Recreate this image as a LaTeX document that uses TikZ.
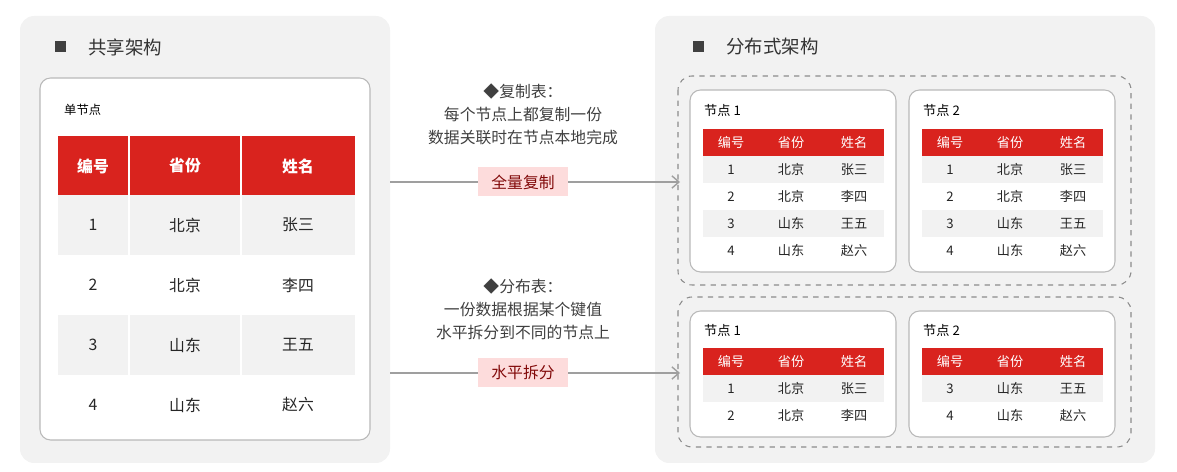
\documentclass[tikz,border=0pt]{standalone}
\usepackage{fontspec}
\setmainfont{Noto Sans CJK SC}
\definecolor{panelgray}{RGB}{242,242,242}
\definecolor{tabred}{RGB}{217,35,30}
\definecolor{rowgray}{RGB}{242,242,242}
\definecolor{boxline}{RGB}{185,185,185}
\definecolor{tagpink}{RGB}{253,220,220}
\definecolor{tagtext}{RGB}{130,10,10}
\tikzset{
  panel/.style={fill=panelgray, rounded corners=8pt},
  whitebox/.style={draw=boxline, fill=white, rounded corners=6pt, line width=0.6pt},
  dashbox/.style={draw=gray!90, dashed, rounded corners=8pt, line width=0.6pt},
  head/.style={text=white, font=\fontsize{7.5}{9}\selectfont},
  cell/.style={text=black!85, font=\fontsize{7.5}{9}\selectfont},
  bighead/.style={text=white, font=\bfseries\fontsize{9}{11}\selectfont},
  bigcell/.style={text=black!85, font=\fontsize{9}{11}\selectfont},
  tag/.style={fill=tagpink, text=tagtext, font=\fontsize{9}{11}\selectfont, minimum width=1.8cm, minimum height=0.58cm},
  note/.style={text=black!75, font=\fontsize{9}{11}\selectfont, align=center},
  flow/.style={draw=gray!75, line width=0.8pt, -{Straight Barb[length=4pt,width=7pt]}},
}
\usetikzlibrary{arrows.meta}
% small table of one node: #1 = left x, #2 = header top y, #3 = rows
\newcommand\nodetable[3]{
  \fill[tabred] (#1,#2) rectangle ++(181,27);
  \node[head] at (#1+28,#2+13.5) {编号};
  \node[head] at (#1+88,#2+13.5) {省份};
  \node[head] at (#1+151,#2+13.5) {姓名};
  \foreach \no/\prov/\name [count=\r] in {#3} {
    \pgfmathsetmacro\ytop{#2+27*\r}
    \ifodd\r \fill[rowgray] (#1,\ytop) rectangle ++(181,27); \fi
    \node[cell] at (#1+28,\ytop+13.5) {\no};
    \node[cell] at (#1+88,\ytop+13.5) {\prov};
    \node[cell] at (#1+151,\ytop+13.5) {\name};
  }
}
\begin{document}
\begin{tikzpicture}[x=0.02cm, y=-0.02cm]
  \useasboundingbox (0,0) rectangle (1177,472);
  % left side
  \fill[panel] (20,16) rectangle (390,463);
  \fill[black!75] (55,41) rectangle ++(11,11);
  \node[anchor=west, font=\fontsize{10.5}{12}\selectfont, text=black!80] (ltitle) at (82,47) {共享架构};
  \draw[whitebox] (40,78) rectangle (370,440);
  \node[anchor=west, font=\fontsize{7}{8}\selectfont] (single) at (58,110) {单节点};
  \fill[tabred] (58,136) rectangle (355,195);
  \draw[white, line width=0.8pt] (129,136) -- (129,195) (241,136) -- (241,195);
  \node[bighead] at (93,166) {编号};
  \node[bighead] at (185,166) {省份};
  \node[bighead] at (298,166) {姓名};
  \foreach \no/\prov/\name [count=\r] in {1/北京/张三,2/北京/李四,3/山东/王五,4/山东/赵六} {
    \pgfmathsetmacro\ytop{195+60*(\r-1)}
    \ifodd\r
      \fill[rowgray] (58,\ytop) rectangle ++(297,60);
      \draw[white, line width=0.8pt] (129,\ytop) -- ++(0,60) (241,\ytop) -- ++(0,60);
    \fi
    \node[bigcell] at (93,\ytop+30) {\no};
    \node[bigcell] at (185,\ytop+30) {\prov};
    \node[bigcell] at (298,\ytop+30) {\name};
  }
  % right side
  \fill[panel] (655,16) rectangle (1155,463);
  \fill[black!75] (693,41) rectangle ++(11,11);
  \node[anchor=west, font=\fontsize{10.5}{12}\selectfont, text=black!80] (rtitle) at (720,47) {分布式架构};
  \draw[dashbox] (678,76) rectangle (1131,285);
  \draw[dashbox] (678,297) rectangle (1131,447);
  \draw[whitebox] (690,90) rectangle (896,272);
  \draw[whitebox] (909,90) rectangle (1115,272);
  \draw[whitebox] (690,311) rectangle (896,437);
  \draw[whitebox] (909,311) rectangle (1115,437);
  \node[anchor=west, font=\fontsize{7.5}{9}\selectfont] (n11) at (698,110) {节点 1};
  \node[anchor=west, font=\fontsize{7.5}{9}\selectfont] (n12) at (917,110) {节点 2};
  \node[anchor=west, font=\fontsize{7.5}{9}\selectfont] (n21) at (698,330) {节点 1};
  \node[anchor=west, font=\fontsize{7.5}{9}\selectfont] (n22) at (917,330) {节点 2};
  \nodetable{703}{129}{1/北京/张三,2/北京/李四,3/山东/王五,4/山东/赵六}
  \nodetable{922}{129}{1/北京/张三,2/北京/李四,3/山东/王五,4/山东/赵六}
  \nodetable{703}{348}{1/北京/张三,2/北京/李四}
  \nodetable{922}{348}{3/山东/王五,4/山东/赵六}
  % arrows with notes
  \coordinate (rep-s) at (390,182);
  \coordinate (rep-e) at (680,182);
  \coordinate (dis-s) at (390,373);
  \coordinate (dis-e) at (680,373);
  \draw[flow] (rep-s) -- (rep-e);
  \draw[flow] (dis-s) -- (dis-e);
  \node[tag] (full) at (523,182) {全量复制};
  \node[tag] (split) at (523,373) {水平拆分};
  \node[note] (repnote) at (523,114) {◆复制表：\\[2pt]每个节点上都复制一份\\[2pt]数据关联时在节点本地完成};
  \node[note] (disnote) at (523,309) {◆分布表：\\[2pt]一份数据根据某个键值\\[2pt]水平拆分到不同的节点上};
\end{tikzpicture}
\end{document}
